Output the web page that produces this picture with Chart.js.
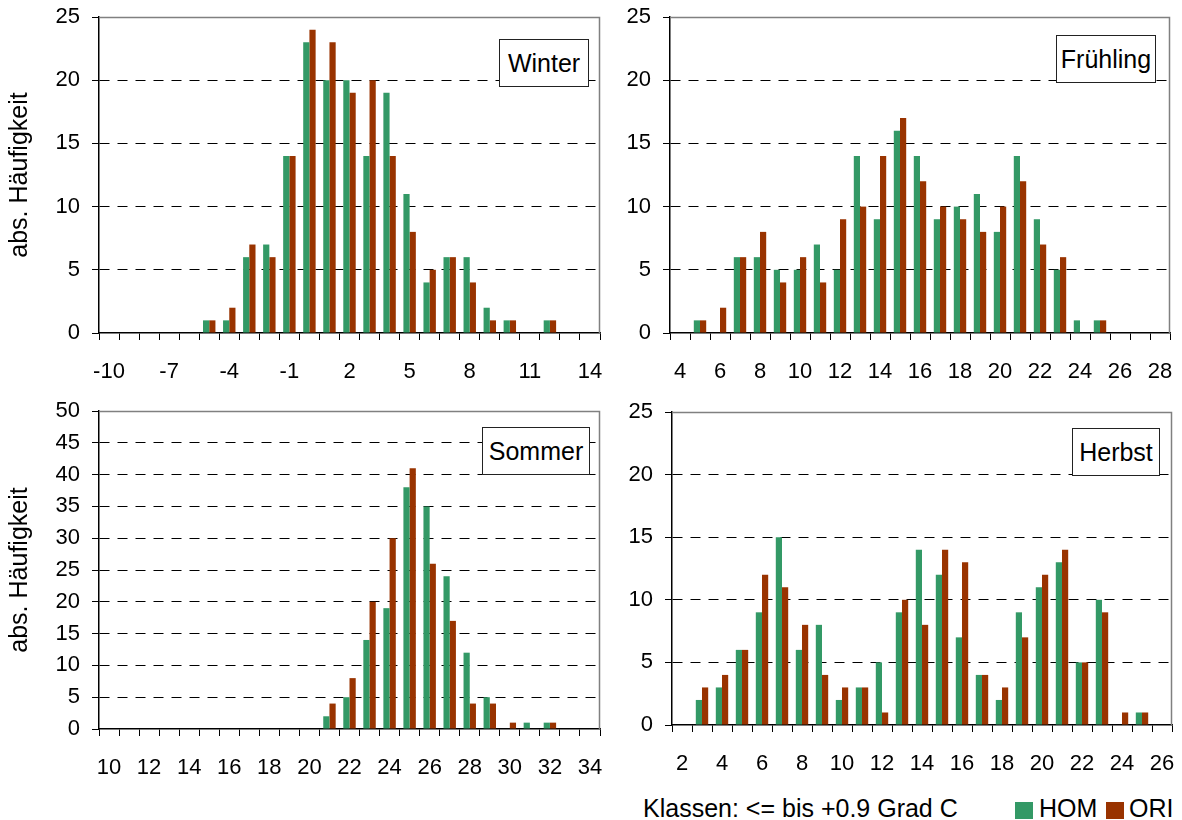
<!DOCTYPE html>
<html>
<head>
<meta charset="utf-8">
<script src="https://cdn.jsdelivr.net/npm/chart.js@4.4.0/dist/chart.umd.min.js"></script>
<style>
body{margin:0;background:#fff;font-family:"Liberation Sans",Arial,sans-serif;}
#wrap{position:relative;width:1182px;height:820px;overflow:hidden;background:#fff;}
canvas{position:absolute;}
.tag{position:absolute;background:#fff;border:1px solid #222;font-size:25px;text-align:center;box-sizing:border-box;line-height:46px;height:48px;color:#000;}
.txt{position:absolute;font-size:25px;line-height:28px;color:#000;white-space:nowrap;}
.sq{position:absolute;width:18px;height:17px;}
</style>
</head>
<body>
<div id="wrap">
  <canvas id="cWinter" width="610" height="390" style="left:0;top:0"></canvas>
  <canvas id="cFruehling" width="572" height="390" style="left:610px;top:0"></canvas>
  <canvas id="cSommer" width="610" height="400" style="left:0;top:390px"></canvas>
  <canvas id="cHerbst" width="572" height="400" style="left:610px;top:390px"></canvas>

  <div class="tag" style="left:499px;top:39px;width:90px">Winter</div>
  <div class="tag" style="left:1056px;top:35px;width:100px">Frühling</div>
  <div class="tag" style="left:482px;top:427px;width:108px">Sommer</div>
  <div class="tag" style="left:1072px;top:428px;width:88px">Herbst</div>

  <div class="txt" style="left:643px;top:794px">Klassen: &lt;= bis +0.9 Grad C</div>
  <div class="sq" style="left:1015px;top:802px;background:#339966"></div>
  <div class="txt" style="left:1039px;top:794px">HOM</div>
  <div class="sq" style="left:1106px;top:802px;background:#993300"></div>
  <div class="txt" style="left:1129px;top:794px">ORI</div>
</div>
<script>
// Klassen (Grad C) und Häufigkeiten je Jahreszeit
const winterCats = ['-10','-9','-8','-7','-6','-5','-4','-3','-2','-1','0','1','2','3','4','5','6','7','8','9','10','11','12','13','14'];
const winterHom  = [0,0,0,0,0,1,1,6,7,14,23,20,20,14,19,11,4,6,6,2,1,0,1,0,0];
const winterOri  = [0,0,0,0,0,1,2,7,6,14,24,23,19,20,14,8,5,6,4,1,1,0,1,0,0];

const fruehCats = ['4','5','6','7','8','9','10','11','12','13','14','15','16','17','18','19','20','21','22','23','24','25','26','27','28'];
const fruehHom  = [0,1,0,6,6,5,5,7,5,14,9,16,14,9,10,11,8,14,9,5,1,1,0,0,0];
const fruehOri  = [0,1,2,6,8,4,6,4,9,10,14,17,12,10,9,8,10,12,7,6,0,1,0,0,0];

const sommerCats = ['10','11','12','13','14','15','16','17','18','19','20','21','22','23','24','25','26','27','28','29','30','31','32','33','34'];
const sommerHom  = [0,0,0,0,0,0,0,0,0,0,0,2,5,14,19,38,35,24,12,5,0,1,1,0,0];
const sommerOri  = [0,0,0,0,0,0,0,0,0,0,0,4,8,20,30,41,26,17,4,4,1,0,1,0,0];

const herbstCats = ['2','3','4','5','6','7','8','9','10','11','12','13','14','15','16','17','18','19','20','21','22','23','24','25','26'];
const herbstHom  = [0,2,3,6,9,15,6,8,2,3,5,9,14,12,7,4,2,9,11,13,5,10,0,1,0];
const herbstOri  = [0,3,4,6,12,11,8,4,3,3,1,10,8,14,13,4,3,7,12,14,5,9,1,1,0];

const GREEN = '#339966', RED = '#993300';
const FONT = '"Liberation Sans", Arial, sans-serif';

// grauer Rahmen oben und rechts
const frame = {
  id:'frame',
  afterDatasetsDraw(c){
    const a = c.chartArea, x = c.ctx;
    x.save(); x.strokeStyle = '#808080'; x.lineWidth = 1.5;
    x.beginPath(); x.moveTo(a.left, a.top + 0.5); x.lineTo(a.right - 0.5, a.top + 0.5); x.lineTo(a.right - 0.5, a.bottom); x.stroke();
    x.restore();
  }
};

function makeChart(id, cats, hom, ori, o){
  new Chart(document.getElementById(id), {
    type:'bar',
    data:{ labels:cats, datasets:[
      {label:'HOM', data:hom, backgroundColor:GREEN},
      {label:'ORI', data:ori, backgroundColor:RED}
    ]},
    options:{
      responsive:false, animation:false,
      layout:{ padding:{ top:o.top, right:o.right, left:0, bottom:0 } },
      plugins:{ legend:{display:false}, tooltip:{enabled:false} },
      datasets:{ bar:{ categoryPercentage:0.62, barPercentage:1 } },
      scales:{
        x:{
          grid:{ drawOnChartArea:false, tickLength:7, color:'#000' },
          border:{ color:'#000', width:1.5 },
          ticks:{ autoSkip:false, maxRotation:0, color:'#000', padding:19, font:{family:FONT, size:22},
            callback:(v,i) => i % o.every === 0 ? cats[i] : '' },
          afterFit:s => { s.height = o.xh; s.paddingLeft = 0; s.paddingRight = 0; }
        },
        y:{
          min:0, max:o.max,
          ticks:{ stepSize:5, color:'#000', padding:12, font:{family:FONT, size:22} },
          grid:{ tickLength:7, tickColor:'#000', color:c => (c.tick.value === 0 || c.tick.value === o.max) ? 'rgba(0,0,0,0)' : '#000' },
          border:{ color:'#000', width:1.5, dash:[10,8] },
          title:{ display:!!o.title, text:o.title || '', color:'#000', font:{family:FONT, size:25}, padding:{top:5, bottom:0} },
          afterFit:s => { s.width = o.yw; s.paddingTop = 0; s.paddingBottom = 0; }
        }
      }
    },
    plugins:[frame]
  });
}

makeChart('cWinter', winterCats, winterHom, winterOri, {top:17, right:10, yw:99, xh:57, max:25, every:3, title:'abs. Häufigkeit'});
makeChart('cFruehling', fruehCats, fruehHom, fruehOri, {top:17, right:12, yw:60, xh:57, max:25, every:2});
makeChart('cSommer', sommerCats, sommerHom, sommerOri, {top:21, right:10, yw:99, xh:61, max:50, every:2, title:'abs. Häufigkeit'});
makeChart('cHerbst', herbstCats, herbstHom, herbstOri, {top:22, right:10, yw:62, xh:65, max:25, every:2});
</script>
</body>
</html>
